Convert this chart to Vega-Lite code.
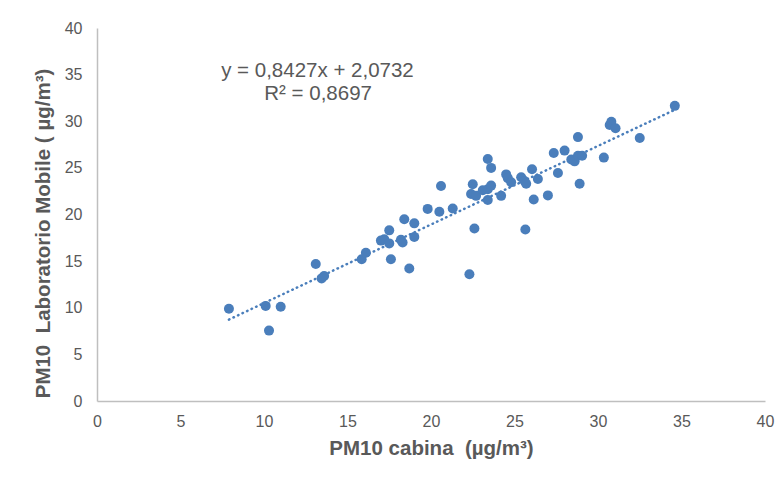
{
  "$schema": "https://vega.github.io/schema/vega-lite/v6.json",
  "width": 668,
  "height": 373,
  "autosize": {"type": "none"},
  "padding": {"left": 97, "top": 28, "right": 14, "bottom": 77},
  "background": "white",
  "config": {
    "view": {"stroke": null},
    "font": "Liberation Sans",
    "axis": {
      "grid": false,
      "ticks": false,
      "domainColor": "#bfbfbf",
      "domainWidth": 1.5,
      "labelColor": "#595959",
      "labelFont": "Liberation Sans",
      "labelFontSize": 16,
      "labelFlush": false,
      "titleColor": "#595959",
      "titleFont": "Liberation Sans",
      "titleFontSize": 20.5,
      "titleFontWeight": "bold"
    }
  },
  "datasets": {
    "points": [
      {"cabina": 7.9, "mobile": 9.9},
      {"cabina": 10.1, "mobile": 10.2},
      {"cabina": 11.0, "mobile": 10.1},
      {"cabina": 10.3, "mobile": 7.55},
      {"cabina": 13.1, "mobile": 14.7},
      {"cabina": 13.45, "mobile": 13.15},
      {"cabina": 13.6, "mobile": 13.4},
      {"cabina": 15.85, "mobile": 15.2},
      {"cabina": 16.1, "mobile": 15.9},
      {"cabina": 17.0, "mobile": 17.2},
      {"cabina": 17.2, "mobile": 17.35},
      {"cabina": 17.5, "mobile": 16.9},
      {"cabina": 17.5, "mobile": 18.3},
      {"cabina": 17.6, "mobile": 15.2},
      {"cabina": 18.2, "mobile": 17.3},
      {"cabina": 18.3, "mobile": 17.0},
      {"cabina": 18.4, "mobile": 19.5},
      {"cabina": 19.0, "mobile": 19.05},
      {"cabina": 19.0, "mobile": 17.6},
      {"cabina": 18.7, "mobile": 14.2},
      {"cabina": 19.8, "mobile": 20.6},
      {"cabina": 20.5, "mobile": 20.3},
      {"cabina": 21.3, "mobile": 20.65},
      {"cabina": 20.6, "mobile": 23.05},
      {"cabina": 22.3, "mobile": 13.6},
      {"cabina": 22.6, "mobile": 18.5},
      {"cabina": 22.5, "mobile": 23.25},
      {"cabina": 22.4, "mobile": 22.2},
      {"cabina": 22.7, "mobile": 22.0},
      {"cabina": 23.1, "mobile": 22.6},
      {"cabina": 23.4, "mobile": 22.7},
      {"cabina": 23.6, "mobile": 23.1},
      {"cabina": 23.4, "mobile": 21.55},
      {"cabina": 23.4, "mobile": 25.95},
      {"cabina": 23.6, "mobile": 25.0},
      {"cabina": 24.2, "mobile": 22.0},
      {"cabina": 24.5, "mobile": 24.3},
      {"cabina": 24.6, "mobile": 23.9},
      {"cabina": 24.8, "mobile": 23.45},
      {"cabina": 25.4, "mobile": 24.0},
      {"cabina": 25.6, "mobile": 23.6},
      {"cabina": 25.7, "mobile": 23.3},
      {"cabina": 26.05, "mobile": 24.85},
      {"cabina": 26.4, "mobile": 23.8},
      {"cabina": 26.15, "mobile": 21.6},
      {"cabina": 25.65, "mobile": 18.4},
      {"cabina": 27.0, "mobile": 22.05},
      {"cabina": 27.35, "mobile": 26.6},
      {"cabina": 27.6, "mobile": 24.45},
      {"cabina": 28.0, "mobile": 26.85},
      {"cabina": 28.4, "mobile": 25.9},
      {"cabina": 28.6, "mobile": 25.7},
      {"cabina": 28.8, "mobile": 26.3},
      {"cabina": 29.05, "mobile": 26.3},
      {"cabina": 28.8, "mobile": 28.3},
      {"cabina": 28.9, "mobile": 23.3},
      {"cabina": 30.35, "mobile": 26.1},
      {"cabina": 30.7, "mobile": 29.6},
      {"cabina": 30.8, "mobile": 29.95},
      {"cabina": 31.05, "mobile": 29.25},
      {"cabina": 32.5, "mobile": 28.2},
      {"cabina": 34.6, "mobile": 31.65}
    ],
    "trend": [
      {"cabina": 7.9, "mobile": 8.73},
      {"cabina": 34.6, "mobile": 31.23}
    ],
    "labels": [
      {"cabina": 13.2, "mobile": 35.39, "text": "y = 0,8427x + 2,0732"},
      {"cabina": 13.24, "mobile": 32.92, "text": "R² = 0,8697"}
    ]
  },
  "encoding": {
    "x": {
      "field": "cabina",
      "type": "quantitative",
      "scale": {"domain": [0, 40], "nice": false, "zero": false},
      "axis": {"values": [0, 5, 10, 15, 20, 25, 30, 35, 40], "title": "PM10 cabina\u00a0 (µg/m³)", "labelPadding": 12, "titlePadding": 9}
    },
    "y": {
      "field": "mobile",
      "type": "quantitative",
      "scale": {"domain": [0, 40], "nice": false, "zero": false},
      "axis": {"values": [0, 5, 10, 15, 20, 25, 30, 35, 40], "title": "PM10\u00a0 Laboratorio Mobile ( µg/m³)", "labelPadding": 15, "titlePadding": 11, "titleY": 205}
    }
  },
  "layer": [
    {
      "data": {"name": "trend"},
      "mark": {"type": "line", "color": "#4A7EBB", "strokeWidth": 2.5, "strokeDash": [0.5, 4.5], "strokeCap": "round"}
    },
    {
      "data": {"name": "points"},
      "mark": {"type": "circle", "color": "#4A7EBB", "opacity": 1, "size": 100}
    },
    {
      "data": {"name": "labels"},
      "mark": {"type": "text", "color": "#595959", "fontSize": 20.5, "font": "Liberation Sans", "align": "center", "baseline": "middle"},
      "encoding": {"text": {"field": "text"}}
    }
  ]
}
